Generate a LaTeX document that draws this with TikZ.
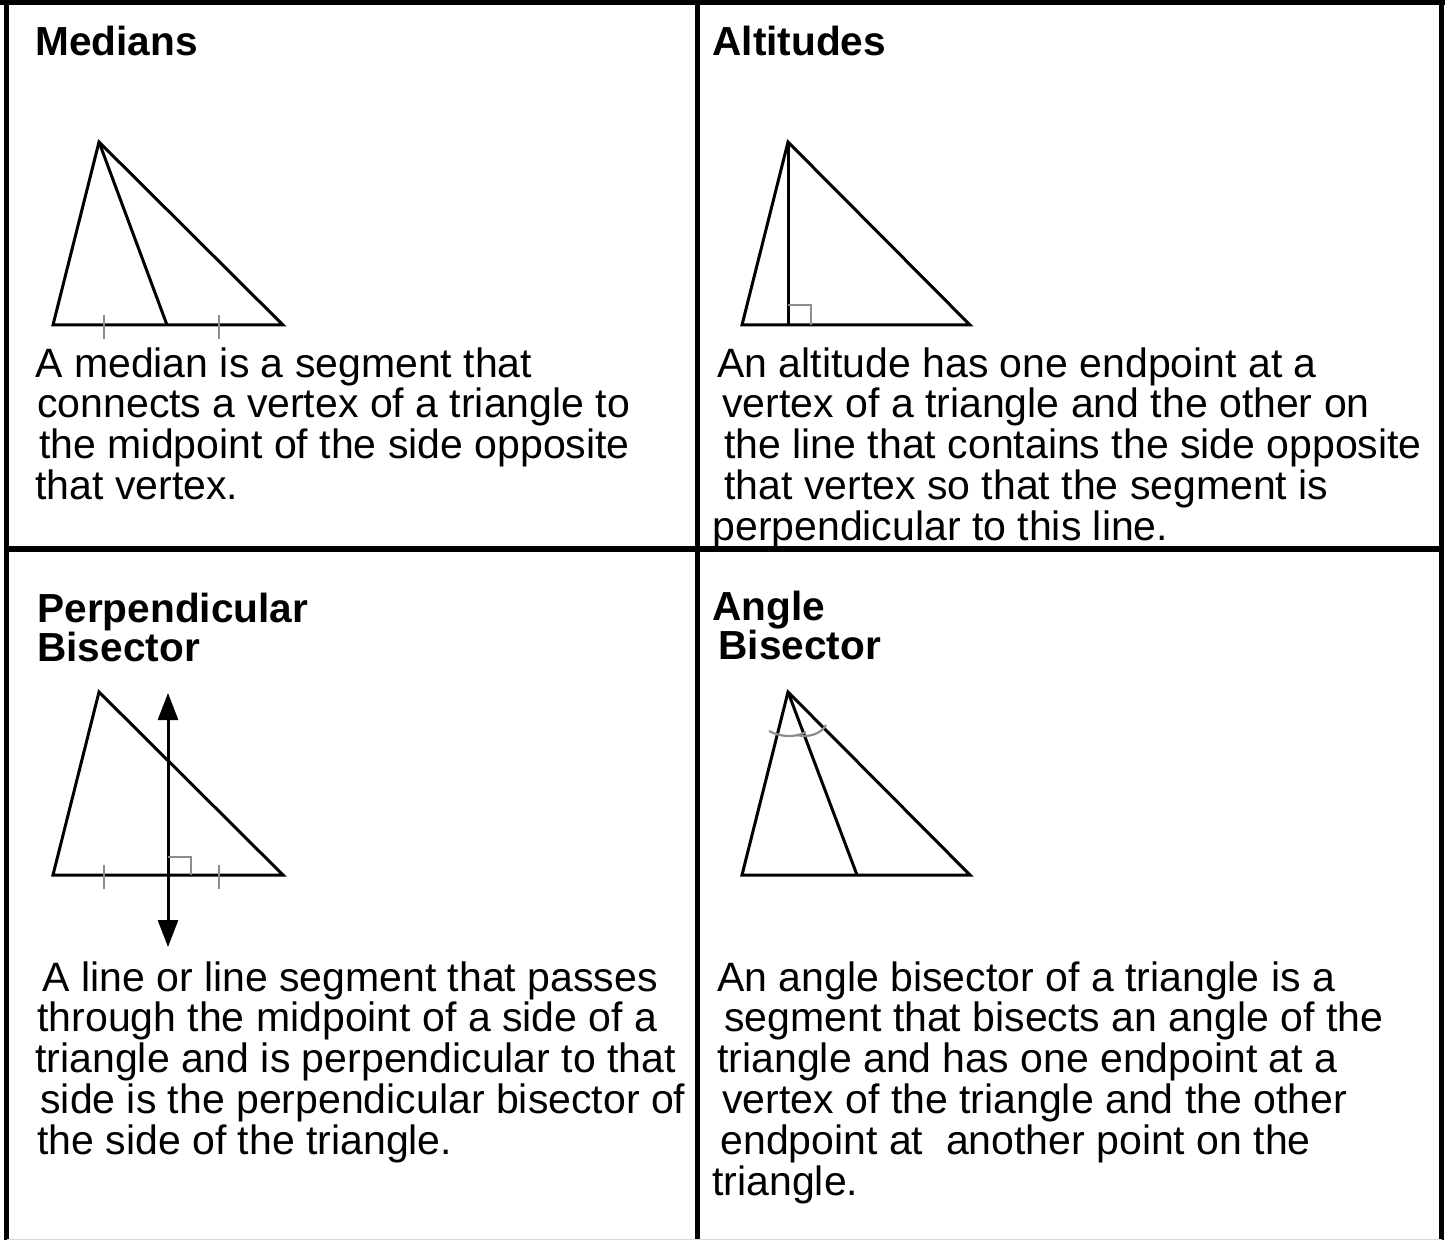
\documentclass[tikz,border=0pt]{standalone}
\usepackage{fontspec}
\setmainfont{Liberation Sans}
\usetikzlibrary{arrows.meta}
\definecolor{markgray}{HTML}{8C8C8C}

\begin{document}
\begin{tikzpicture}[
    x=0.5pt,y=-0.5pt,
    frame/.style = {line width=2.6pt, black},
    side/.style  = {line width=1.5pt, line join=miter},
    hatch/.style = {markgray, line width=1.1pt},
    ttl/.style   = {anchor=north west, inner sep=0pt, align=left,
                    font=\fontsize{20.3}{19.5}\selectfont\bfseries},
    body/.style  = {anchor=north west, inner sep=0pt, align=left,
                    font=\fontsize{20.5}{20.4}\selectfont},
    arr/.style   = {{Triangle[length=13.5pt,width=10pt]}-{Triangle[length=13.5pt,width=10pt]}},
  ]
  \useasboundingbox (0,0) rectangle (1445,1240);

  % grid of the four cells
  \draw[frame] (0,2.5) -- (1445,2.5);
  \draw[frame] (6.5,0) -- (6.5,1240);
  \draw[frame] (1441.5,0) -- (1441.5,1240);
  \draw[frame] (697.5,0) -- (697.5,1240);
  \draw[frame] (6.5,549) -- (1441.5,549);
  \draw[black!15, line width=0.5pt] (6.5,1239) -- (1441.5,1239);

  % medians
  \node[ttl] (tmed) at (35,26) {Medians};
  \coordinate (ma) at (99,142);
  \coordinate (mb) at (53,325);
  \coordinate (mc) at (283,325);
  \coordinate (mm) at (167,325);
  \draw[side] (mb) -- (ma) -- (mc) -- cycle;
  \draw[side] (ma) -- (mm);
  \foreach \x in {104,219} \draw[hatch] (\x,315) -- (\x,339);
  \node[body] (dmed) at (35,347)
       {A median is a segment that\\
        \hspace*{1pt}connects a vertex of a triangle to\\
        \hspace*{2pt}the midpoint of the side opposite\\
        that vertex.};

  % altitudes
  \node[ttl] (talt) at (712,26) {Altitudes};
  \coordinate (aa) at (788,142);
  \coordinate (ab) at (742,325);
  \coordinate (ac) at (970,325);
  \coordinate (af) at (788,325);
  \draw[side] (ab) -- (aa) -- (ac) -- cycle;
  \draw[side] (aa) -- (af);
  \draw[hatch] (788,305) -- (811,305) -- (811,325);
  \node[body] (dalt) at (712,347)
       {\hspace*{2.5pt}An altitude has one endpoint at a\\
        \hspace*{5pt}vertex of a triangle and the other on\\
        \hspace*{6pt}the line that contains the side opposite\\
        \hspace*{6pt}that vertex so that the segment is\\
        perpendicular to this line.};

  % perpendicular bisector
  \node[ttl] (tper) at (37,593) {Perpendicular\\Bisector};
  \coordinate (pa) at (99,692);
  \coordinate (pb) at (53,875);
  \coordinate (pc) at (283,875);
  \coordinate (ptop) at (168,693);
  \coordinate (pbot) at (168,947);
  \draw[side] (pb) -- (pa) -- (pc) -- cycle;
  \draw[side,arr] (ptop) -- (pbot);
  \foreach \x in {104,219} \draw[hatch] (\x,865) -- (\x,889);
  \draw[hatch] (168,857) -- (191,857) -- (191,875);
  \node[body] (dper) at (35,961)
       {\hspace*{3.5pt}A line or line segment that passes\\
        \hspace*{1pt}through the midpoint of a side of a\\
        triangle and is perpendicular to that\\
        \hspace*{2.5pt}side is the perpendicular bisector of\\
        \hspace*{1pt}the side of the triangle.};

  % angle bisector
  \node[ttl] (tang) at (712,591) {Angle\\\hspace*{3pt}Bisector};
  \coordinate (ba) at (788,692);
  \coordinate (bb) at (742,875);
  \coordinate (bc) at (970,875);
  \coordinate (bf) at (857,875);
  \draw[side] (bb) -- (ba) -- (bc) -- cycle;
  \draw[side] (ba) -- (bf);
  \draw[hatch] (769,731) .. controls (780,737) and (795,738) .. (806,732);
  \draw[hatch] (797,735) .. controls (808,738) and (821,734) .. (826,725);
  \node[body] (dang) at (712,961)
       {\hspace*{2.5pt}An angle bisector of a triangle is a\\
        \hspace*{6pt}segment that bisects an angle of the\\
        \hspace*{2.5pt}triangle and has one endpoint at a\\
        \hspace*{5pt}vertex of the triangle and the other\\
        \hspace*{4pt}endpoint at\ \ another point on the\\
        triangle.};

\end{tikzpicture}
\end{document}
